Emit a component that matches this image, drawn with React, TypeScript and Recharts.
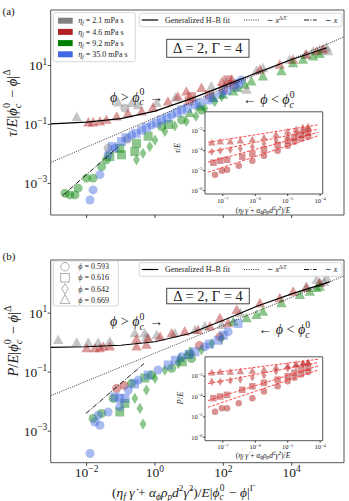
import React from 'react';
import { ScatterChart, Scatter, XAxis, YAxis, ReferenceArea } from 'recharts';

type P = [number, number];
type Kind = 'circ' | 'sq' | 'dia' | 'tri';

const GRAY = '#808080';
const RED = '#b22222';
const GREEN = '#008000';
const BLUE = '#4169e1';
const FONT = '"Liberation Serif", "DejaVu Serif", serif';
const PHI = '\u03d5';

// ---------- panel (a): tau / E |phi_c - phi|^Delta ----------
const grayTriA: P[] = [
  [-2.29, -0.76], [-1.08, -0.26], [-0.68, -0.28], [-0.49, -0.36], [0.05, -0.28], [0.6, -0.1],
  [1.65, 0.28], [2.1, 0.4], [2.68, 0.17], [2.97, 0.81], [3.16, 0.9], [3.94, 1.19],
  [4.4, 1.35], [4.63, 1.47], [4.82, 1.53], [4.9, 1.5], [5.02, 1.6], [5.06, 1.47],
];
const grayCircA: P[] = [[-1.37, -1.81], [-0.81, -1.5], [-0.88, -0.45]];
const redTriA: P[] = [
  [-1.95, -0.94], [-1.81, -0.94], [-1.61, -0.91], [-1.42, -0.85], [-1.12, -0.74], [-0.79, -0.64],
  [-0.39, -0.57], [-0.06, -0.44], [0.38, -0.23], [0.67, -0.06], [0.92, 0.11], [1.36, 0.23],
  [1.96, 0.44], [2.25, 0.51], [3.07, 0.85], [3.65, 1.02], [4.04, 1.19], [4.43, 1.36],
  [4.73, 1.47], [4.92, 1.55],
];
const redSqA: P[] = [[1.0, -0.2], [1.07, -0.06], [1.6, 0.0], [2.0, 0.2], [2.13, 0.51], [2.3, 0.35]];
const greenTriA: P[] = [
  [1.02, -0.62], [1.31, -0.4], [1.7, -0.11], [1.99, 0.0], [2.29, 0.11], [2.43, 0.23],
  [2.63, 0.34], [2.82, 0.45], [3.16, 0.62], [3.7, 0.8], [4.04, 1.07], [4.33, 1.19],
  [4.63, 1.3], [4.82, 1.38],
];
const greenCircA: P[] = [
  [-2.63, -3.33], [-2.49, -3.39], [-2.34, -3.39], [-2.25, -3.16], [-2.0, -2.82], [-1.81, -2.82],
  [-1.56, -2.43], [-1.42, -2.2], [0.19, -1.07], [0.78, -0.85], [1.36, -0.51],
];
const greenSqA: P[] = [
  [-1.32, -2.09], [-1.03, -1.81], [-0.98, -2.03], [-0.59, -1.92], [-0.54, -1.64], [-0.2, -1.4], [0.4, -1.0],
];
const greenDiaA: P[] = [
  [-0.54, -2.2], [-0.35, -1.98], [-0.15, -1.75], [0.0, -1.53], [0.29, -1.24], [0.58, -1.05],
  [0.92, -0.9], [1.2, -0.72], [1.46, -0.45], [1.75, -0.23], [1.95, -0.06],
];
const blueCircA: P[] = [
  [-1.9, -3.56], [-1.81, -3.22], [-1.61, -2.7], [-1.37, -2.03], [-1.17, -1.81], [-0.68, -1.36],
  [-0.1, -1.02], [0.49, -0.68], [1.17, -0.34], [1.95, 0.06], [2.53, 0.51],
];
const blueSqA: P[] = [
  [-1.25, -1.75], [-0.98, -1.58], [-0.85, -1.45], [-0.55, -1.3], [-0.39, -1.19], [-0.25, -1.1],
  [0.05, -0.95], [0.19, -0.85], [0.35, -0.78], [0.65, -0.6], [0.78, -0.51], [0.95, -0.45],
  [1.3, -0.28], [1.56, -0.17], [1.7, -0.08], [2.1, 0.15], [2.34, 0.28], [2.45, 0.4],
];
const hbFitA: P[] = [
  [-3.05, -0.98], [-2, -0.92], [-1, -0.8], [0, -0.55], [1, -0.15], [2, 0.3], [3, 0.76], [4, 1.2], [5.03, 1.6],
];
const powLawA: P[] = [[-3.05, -2.29], [5.53, 1.97]];
const linLawA: P[] = [[-2.7, -3.41], [-1.085, -1.77]];

// ---------- panel (b): P / E |phi_c - phi|^Delta ----------
const grayTriB: P[] = [
  [-2.83, 0.08], [-2.29, -0.01], [-1.95, -0.01], [-1.66, -0.01], [-1.32, 0.03], [-0.59, 0.31],
  [-0.3, 0.31], [-0.25, 0.18], [0.05, 0.25], [0.58, 0.31], [1.17, 0.42], [1.46, 0.54],
  [1.95, 0.59], [2.5, 1.0], [4.43, 1.89], [4.73, 2.12], [4.82, 2.01], [4.95, 2.05], [5.02, 2.18],
];
const redTriB: P[] = [
  [-2.0, -0.2], [-1.76, -0.2], [-1.61, -0.2], [-1.51, -0.14], [-1.32, -0.14], [-0.54, -0.14],
  [-0.54, 0.11], [-0.25, -0.08], [-0.2, 0.14], [0.15, 0.2], [0.49, 0.31], [0.87, 0.37],
  [1.26, 0.42], [1.61, 0.54], [1.9, 0.82], [2.14, 0.65], [2.39, 1.1], [3.07, 1.33],
  [3.65, 1.5], [4.04, 1.72], [4.43, 1.84], [4.82, 2.01],
];
const redCircB: P[] = [[-1.12, -1.55], [-0.9, -1.45], [1.3, -0.1], [1.9, 0.2]];
const greenTriB: P[] = [
  [0.73, -0.54], [0.92, -0.42], [1.02, -0.31], [2.29, 0.7], [2.68, 0.82], [2.97, 0.93],
  [3.16, 1.04], [3.7, 1.33], [4.24, 1.61], [4.53, 1.72], [4.73, 1.84], [4.82, 1.89],
];
const greenCircB: P[] = [
  [-1.81, -2.57], [-1.56, -2.4], [-1.22, -1.89], [-0.68, -1.38], [-0.1, -1.1], [0.49, -0.87], [1.07, -0.54],
];
const greenSqB: P[] = [[-1.03, -2.35], [-0.88, -2.06], [-0.3, -1.2], [0.8, -0.65]];
const greenDiaB: P[] = [
  [-0.59, -1.89], [-0.44, -2.23], [-0.35, -2.76], [-0.25, -1.61], [0.0, -1.21], [0.29, -0.93],
  [0.68, -0.71], [1.07, -0.37], [1.36, -0.25], [1.66, -0.03], [1.95, 0.14],
];
const blueCircB: P[] = [
  [-1.9, -3.76], [-1.76, -2.69], [-1.66, -2.46], [-1.61, -2.8], [-1.37, -2.35], [-1.03, -2.18],
  [-0.78, -1.61], [-0.49, -1.27], [0.09, -0.93], [0.78, -0.48], [1.46, -0.14], [2.14, 0.37],
];
const blueSqB: P[] = [
  [-1.17, -1.84], [-1.03, -1.89], [-0.88, -1.89], [-0.6, -1.4], [-0.2, -1.1], [0.39, -0.76],
  [0.6, -0.6], [1.0, -0.4], [1.17, -0.31], [1.6, -0.05], [1.85, 0.08], [2.0, 0.25], [2.43, 0.65],
];
const hbFitB: P[] = [
  [-3.05, -0.16], [-2, -0.14], [-1, -0.09], [0, 0.03], [1, 0.3], [2, 0.76], [3, 1.24], [4, 1.65], [5.11, 2.06],
];
const powLawB: P[] = [[-3.05, -1.8], [5.53, 2.26]];
const linLawB: P[] = [[-2.02, -2.4], [-0.32, -0.71]];

// ---------- insets (raw stress / pressure over E) ----------
const inTriA: P[] = [
  [-7.34, -3.6], [-7.08, -3.55], [-6.77, -3.55], [-6.46, -3.5], [-6.09, -3.45], [-5.73, -3.35],
  [-5.36, -3.2], [-5.0, -3.05], [-4.74, -2.95], [-4.53, -2.85], [-4.37, -2.8],
];
const inDiaA: P[] = [
  [-7.34, -4.05], [-7.08, -4.0], [-6.77, -3.95], [-6.46, -3.9], [-6.09, -3.8], [-5.73, -3.65],
  [-5.36, -3.45], [-5.0, -3.3], [-4.74, -3.15], [-4.53, -3.05], [-4.37, -2.95],
];
const inSqA: P[] = [
  [-7.29, -4.6], [-7.08, -4.5], [-6.87, -4.45], [-6.4, -4.3], [-6.09, -4.15], [-5.73, -3.95],
  [-5.31, -3.7], [-5.0, -3.5], [-4.79, -3.35], [-4.58, -3.2], [-4.37, -3.1],
];
const inCircA: P[] = [
  [-7.24, -5.2], [-7.03, -5.0], [-6.87, -4.95], [-6.51, -4.75], [-6.09, -4.5], [-5.73, -4.25],
  [-5.31, -4.0], [-5.0, -3.75], [-4.79, -3.55], [-4.58, -3.4], [-4.37, -3.3],
];
const inFitsA: P[][] = [
  [[-7.46, -3.58], [-4.06, -2.7]],
  [[-7.46, -4.08], [-4.06, -2.92]],
  [[-7.46, -4.58], [-4.06, -3.08]],
  [[-7.46, -5.08], [-4.06, -3.25]],
];
const inTriB: P[] = [
  [-7.34, -2.83], [-7.08, -2.8], [-6.77, -2.8], [-6.46, -2.77], [-6.09, -2.75], [-5.73, -2.7],
  [-5.36, -2.58], [-5.0, -2.5], [-4.74, -2.42], [-4.53, -2.37], [-4.37, -2.33],
];
const inDiaB: P[] = [
  [-7.34, -3.27], [-7.08, -3.27], [-6.77, -3.22], [-6.46, -3.17], [-6.09, -3.07], [-5.73, -2.97],
  [-5.36, -2.77], [-5.0, -2.62], [-4.74, -2.52], [-4.53, -2.42], [-4.37, -2.37],
];
const inSqB: P[] = [
  [-7.29, -4.08], [-7.08, -4.0], [-6.87, -3.92], [-6.4, -3.67], [-6.09, -3.5], [-5.73, -3.33],
  [-5.31, -3.17], [-5.0, -3.0], [-4.79, -2.83], [-4.58, -2.67], [-4.37, -2.58],
];
const inCircB: P[] = [
  [-7.24, -4.75], [-7.03, -4.58], [-6.87, -4.58], [-6.51, -4.33], [-6.09, -4.08], [-5.73, -3.75],
  [-5.31, -3.5], [-5.0, -3.25], [-4.79, -3.08], [-4.58, -2.92], [-4.37, -2.8],
];
const inFitsB: P[][] = [
  [[-7.46, -2.87], [-4.06, -2.17]],
  [[-7.46, -3.37], [-4.06, -2.33]],
  [[-7.46, -4.2], [-4.06, -2.5]],
  [[-7.46, -4.53], [-4.06, -2.7]],
];

const etaLabels = ['2.1', '4.6', '9.2', '35.0'];
const etaColors = [GRAY, RED, GREEN, BLUE];
const phiLabels = ['0.593', '0.616', '0.642', '0.669'];
const phiKinds: Kind[] = ['circ', 'sq', 'dia', 'tri'];

const X_TICKS = [1e-2, 1, 1e2, 1e4];
const Y_TICKS = [1e-3, 1e-1, 1e1];
const IN_X_TICKS = [1e-7, 1e-6, 1e-5, 1e-4];
const IN_Y_TICKS = [1e-6, 1e-5, 1e-4, 1e-3];

const X_DOM = [10 ** -3.05, 10 ** 5.53];
const Y_DOM_A = [10 ** -4.07, 10 ** 2.88];
const Y_DOM_B = [10 ** -4.07, 10 ** 2.8];
const IN_X_DOM = [10 ** -7.55, 10 ** -3.92];
const IN_Y_DOM = [10 ** -6.17, 10 ** -2.05];

const toPts = (a: P[]) => a.map(([lx, ly]) => ({ x: 10 ** lx, y: 10 ** ly }));

const exp = (v: number) => {
  const e = Math.round(Math.log10(v));
  return e < 0 ? '\u2212' + -e : String(e);
};

function markerPath(kind: Kind, cx: number, cy: number, s: number, props: any) {
  if (kind === 'circ') return <circle cx={cx} cy={cy} r={s / 2} {...props} />;
  if (kind === 'sq') return <rect x={cx - s / 2} y={cy - s / 2} width={s} height={s} {...props} />;
  if (kind === 'dia')
    return (
      <polygon
        points={`${cx},${cy - s * 0.62} ${cx + s * 0.38},${cy} ${cx},${cy + s * 0.62} ${cx - s * 0.38},${cy}`}
        {...props}
      />
    );
  return (
    <polygon
      points={`${cx},${cy - s * 0.62} ${cx + s * 0.58},${cy + s * 0.42} ${cx - s * 0.58},${cy + s * 0.42}`}
      {...props}
    />
  );
}

const shapeOf = (kind: Kind, color: string, s: number, op: number) => (p: any) => {
  if (p.cx == null || p.cy == null) return <g />;
  return markerPath(kind, p.cx, p.cy, s, { fill: color, fillOpacity: op });
};

const noDot = () => <g />;

interface Series { d: P[]; k: Kind; c: string }
interface LineSpec { d: P[]; c: string; w: number; dash?: string }

const seriesA: Series[] = [
  { d: grayTriA, k: 'tri', c: GRAY },
  { d: grayCircA, k: 'circ', c: GRAY },
  { d: redTriA, k: 'tri', c: RED },
  { d: redSqA, k: 'sq', c: RED },
  { d: greenTriA, k: 'tri', c: GREEN },
  { d: greenCircA, k: 'circ', c: GREEN },
  { d: greenSqA, k: 'sq', c: GREEN },
  { d: greenDiaA, k: 'dia', c: GREEN },
  { d: blueCircA, k: 'circ', c: BLUE },
  { d: blueSqA, k: 'sq', c: BLUE },
];
const seriesB: Series[] = [
  { d: grayTriB, k: 'tri', c: GRAY },
  { d: redTriB, k: 'tri', c: RED },
  { d: redCircB, k: 'circ', c: RED },
  { d: greenTriB, k: 'tri', c: GREEN },
  { d: greenCircB, k: 'circ', c: GREEN },
  { d: greenSqB, k: 'sq', c: GREEN },
  { d: greenDiaB, k: 'dia', c: GREEN },
  { d: blueCircB, k: 'circ', c: BLUE },
  { d: blueSqB, k: 'sq', c: BLUE },
];
const DASHDOT = '5 1.5 1 1.5';
const linesA: LineSpec[] = [
  { d: hbFitA, c: '#000', w: 1.2 },
  { d: powLawA, c: '#000', w: 0.8, dash: '1 1.3' },
  { d: linLawA, c: '#000', w: 0.9, dash: DASHDOT },
];
const linesB: LineSpec[] = [
  { d: hbFitB, c: '#000', w: 1.2 },
  { d: powLawB, c: '#000', w: 0.8, dash: '1 1.3' },
  { d: linLawB, c: '#000', w: 0.9, dash: DASHDOT },
];
const insetA: Series[] = [
  { d: inTriA, k: 'tri', c: RED },
  { d: inDiaA, k: 'dia', c: RED },
  { d: inSqA, k: 'sq', c: RED },
  { d: inCircA, k: 'circ', c: RED },
];
const insetB: Series[] = [
  { d: inTriB, k: 'tri', c: RED },
  { d: inDiaB, k: 'dia', c: RED },
  { d: inSqB, k: 'sq', c: RED },
  { d: inCircB, k: 'circ', c: RED },
];

function PowXTick({ x, y, payload, fs, show }: any) {
  if (!show) return <g />;
  return (
    <text x={x} y={y + fs * 0.72} textAnchor="middle" fontFamily={FONT} fontSize={fs} fill="#222">
      10<tspan dy={-fs * 0.42} fontSize={fs * 0.7}>{exp(payload.value)}</tspan>
    </text>
  );
}

function PowYTick({ x, y, payload, fs }: any) {
  return (
    <text x={x + 1.5} y={y + fs * 0.35} textAnchor="end" fontFamily={FONT} fontSize={fs} fill="#222">
      10<tspan dy={-fs * 0.42} fontSize={fs * 0.7}>{exp(payload.value)}</tspan>
    </text>
  );
}

function LogChart(props: {
  w: number; h: number; plotL: number; plotT: number; plotR: number; plotB: number;
  xDom: number[]; yDom: number[]; xTicks: number[]; yTicks: number[];
  series: Series[]; lines: LineSpec[]; size: number; op: number; fs: number; tick: number; xLabels: boolean;
}) {
  const { w, h, plotL, plotT, plotR, plotB, xDom, yDom, series, lines, size, op, fs, tick } = props;
  const bottomArea = h - plotB;
  return (
    <ScatterChart width={w} height={h} margin={{ top: plotT, right: w - plotR, bottom: 4, left: 0 }}>
      <XAxis
        type="number" dataKey="x" scale="log" domain={xDom} ticks={props.xTicks} allowDataOverflow
        interval={0} axisLine={false} tickSize={tick} tickLine={{ stroke: '#444' }} height={bottomArea - 4}
        tick={(p: any) => <PowXTick {...p} fs={fs} show={props.xLabels} />}
      />
      <YAxis
        type="number" dataKey="y" scale="log" domain={yDom} ticks={props.yTicks} allowDataOverflow
        interval={0} axisLine={false} tickSize={tick} tickLine={{ stroke: '#444' }} width={plotL}
        tick={(p: any) => <PowYTick {...p} fs={fs} />}
      />
      <ReferenceArea
        x1={xDom[0]} x2={xDom[1]} y1={yDom[0]} y2={yDom[1]}
        fill="none" stroke="#555" strokeWidth={1} ifOverflow="visible"
      />
      {series.map((s, i) => (
        <Scatter key={'s' + i} data={toPts(s.d)} shape={shapeOf(s.k, s.c, size, op)} isAnimationActive={false} />
      ))}
      {lines.map((l, i) => (
        <Scatter
          key={'l' + i} data={toPts(l.d)} shape={noDot} isAnimationActive={false}
          line={{ stroke: l.c, strokeWidth: l.w, strokeDasharray: l.dash }}
        />
      ))}
    </ScatterChart>
  );
}

const sub = (t: string, fs: number, italic = true) => (
  <tspan dy={fs * 0.25} fontSize={fs * 0.7} fontStyle={italic ? 'italic' : 'normal'}>{t}</tspan>
);

function Legends({ markers, y1 }: { markers: boolean; y1: number }) {
  const fs = 8;
  const rows = markers ? phiLabels : etaLabels;
  const boxH = markers ? 45 : 49;
  const step = markers ? 11.1 : 11.2;
  const first = markers ? y1 + 5.7 : y1 + 8;
  const y2 = markers ? y1 + 8.5 : y1 + 7.3;
  return (
    <g fontFamily={FONT} fontSize={fs} fill="#222">
      <rect x={53.3} y={y1} width={markers ? 65 : 82} height={boxH} rx={2} fill="#fff" fillOpacity={0.85} stroke="#ccc" strokeWidth={0.8} />
      {rows.map((r, i) => {
        const cy = first + i * step;
        return (
          <g key={r}>
            {markers
              ? markerPath(phiKinds[i], 65, cy, 8.5, { fill: 'none', stroke: '#999', strokeWidth: 0.8 })
              : <rect x={58} y={cy - 3} width={14.7} height={6} fill={etaColors[i]} />}
            <text x={78.3} y={cy + 2.6}>
              {markers ? (
                <><tspan fontStyle="italic">{PHI}</tspan> = {r}</>
              ) : (
                <>
                  <tspan fontStyle="italic">η</tspan>
                  <tspan dy={2} fontSize={5.6} fontStyle="italic">f</tspan>
                  <tspan dy={-2}> = {r} mPa s</tspan>
                </>
              )}
            </text>
          </g>
        );
      })}
      <rect x={139.3} y={y2 - 6.8} width={202.7} height={13.6} rx={2} fill="#fff" fillOpacity={0.85} stroke="#ccc" strokeWidth={0.8} />
      <line x1={141.7} x2={158.3} y1={y2} y2={y2} stroke="#000" strokeWidth={1.2} />
      <text x={165} y={y2 + 2.6}>Generalized H–B fit</text>
      <line x1={244} x2={259} y1={y2} y2={y2} stroke="#000" strokeWidth={0.8} strokeDasharray="1 1.3" />
      <text x={266.7} y={y2 + 2.6}>
        ∼ <tspan fontStyle="italic">x</tspan><tspan dy={-3} fontSize={5.6}>Δ/Γ</tspan>
      </text>
      <line x1={304} x2={316.7} y1={y2} y2={y2} stroke="#000" strokeWidth={0.9} strokeDasharray={DASHDOT} />
      <text x={325} y={y2 + 2.6}>∼ <tspan fontStyle="italic">x</tspan></text>
    </g>
  );
}

function PhiC({ fs }: { fs: number }) {
  return (
    <>
      <tspan fontStyle="italic">{PHI}</tspan>
      <tspan dy={fs * 0.28} fontSize={fs * 0.7} fontStyle="italic">c</tspan>
      <tspan dx={-fs * 0.3} dy={-fs * 0.72} fontSize={fs * 0.7}>0</tspan>
      <tspan dy={fs * 0.44}>{'\u200a'}</tspan>
    </>
  );
}

function Overlay(props: {
  h: number; tag: string; tagY: number; yLabel: string; yLabelY: number; legendY: number; markers: boolean;
  box: number[]; gtX: number; gtY: number; ltX: number; ltY: number; inY: string; inYc: number[]; inXc: number[];
  xLabel: boolean;
}) {
  const fs = 14;
  const lfs = 14.5;
  const xfs = 13.5;
  const [bx, by, bw, bh] = props.box;
  return (
    <svg width={349} height={props.h} style={{ position: 'absolute', left: 0, top: 0, pointerEvents: 'none' }}>
      <text x={2.5} y={props.tagY} fontFamily={FONT} fontSize={11} fill="#222">{props.tag}</text>
      <text
        transform={`translate(${props.markers ? 17.5 : 16.5},${props.yLabelY}) rotate(-90)`}
        textAnchor="middle" fontFamily={FONT} fontSize={lfs} fill="#222"
      >
        <tspan fontStyle="italic">{props.yLabel}</tspan>/<tspan fontStyle="italic">E</tspan>|
        <PhiC fs={lfs} />{' \u2212 '}<tspan fontStyle="italic">{PHI}</tspan>|<tspan dy={-lfs * 0.42} fontSize={lfs * 0.7}>Δ</tspan>
      </text>
      <Legends markers={props.markers} y1={props.legendY} />
      <rect x={bx} y={by} width={bw} height={bh} fill="#fff" stroke="#444" strokeWidth={1} />
      <text x={bx + bw / 2} y={by + bh / 2 + 5} textAnchor="middle" fontFamily={FONT} fontSize={14.5} fill="#222">
        Δ = 2,  Γ = 4
      </text>
      <text x={props.gtX} y={props.gtY} fontFamily={FONT} fontSize={fs} fill="#222">
        <tspan fontStyle="italic">{PHI}</tspan>{' > '}<PhiC fs={fs} /> →
      </text>
      <text x={props.ltX} y={props.ltY} fontFamily={FONT} fontSize={fs} fill="#222">
        {'← '}<tspan fontStyle="italic">{PHI}</tspan>{' < '}<PhiC fs={fs} />
      </text>
      <text
        transform={`translate(${props.inYc[0]},${props.inYc[1]}) rotate(-90)`}
        textAnchor="middle" fontFamily={FONT} fontSize={8.5} fill="#222"
      >
        <tspan fontStyle="italic">{props.inY}</tspan>/<tspan fontStyle="italic">E</tspan>
      </text>
      <text x={props.inXc[0]} y={props.inXc[1]} textAnchor="middle" fontFamily={FONT} fontSize={7.5} fill="#222">
        (<tspan fontStyle="italic">η</tspan>{sub('f', 7.5)}<tspan dy={-7.5 * 0.25}>{' '}</tspan>
        <tspan fontStyle="italic">γ̇</tspan>{' + '}<tspan fontStyle="italic">α</tspan>{sub(PHI, 7.5)}
        <tspan dy={-7.5 * 0.25} fontStyle="italic">ρ</tspan>{sub('p', 7.5)}
        <tspan dy={-7.5 * 0.25} fontStyle="italic">d</tspan><tspan dy={-3} fontSize={5.2}>2</tspan>
        <tspan dy={3} fontStyle="italic">γ̇</tspan><tspan dy={-3} fontSize={5.2}>2</tspan>
        <tspan dy={3}>)/</tspan><tspan fontStyle="italic">E</tspan>
      </text>
      {props.xLabel && (
        <text x={112} y={246.5} fontFamily={FONT} fontSize={xfs} fill="#222">
          (<tspan fontStyle="italic">η</tspan>{sub('f', xfs)}<tspan dy={-xfs * 0.25}>{' '}</tspan>
          <tspan fontStyle="italic">γ̇</tspan>{' + '}<tspan fontStyle="italic">α</tspan>{sub(PHI, xfs)}
          <tspan dy={-xfs * 0.25} fontStyle="italic">ρ</tspan>{sub('p', xfs)}
          <tspan dy={-xfs * 0.25} fontStyle="italic">d</tspan><tspan dy={-xfs * 0.38} fontSize={xfs * 0.68}>2</tspan>
          <tspan dy={xfs * 0.38} fontStyle="italic">γ̇</tspan><tspan dy={-xfs * 0.38} fontSize={xfs * 0.68}>2</tspan>
          <tspan dy={xfs * 0.38}>)/</tspan><tspan fontStyle="italic">E</tspan>|<PhiC fs={xfs} />
          {' \u2212 '}<tspan fontStyle="italic">{PHI}</tspan>|<tspan dy={-xfs * 0.4} fontSize={xfs * 0.68}>Γ</tspan>
        </text>
      )}
    </svg>
  );
}

function Inset({ left, top, h, plotB, series, fits }: { left: number; top: number; h: number; plotB: number; series: Series[]; fits: P[][] }) {
  const plotL = 45;
  const plotT = 11.8;
  const plotR = 162.7;
  const fitLines: LineSpec[] = fits.map((f) => ({ d: f, c: '#ff2020', w: 0.8, dash: '3 1.5' }));
  return (
    <div style={{ position: 'absolute', left, top, width: 170, height: h }}>
      <div style={{ position: 'absolute', left: plotL, top: plotT, width: plotR - plotL, height: plotB - plotT, background: '#fff' }} />
      <div style={{ position: 'absolute', left: 0, top: 0 }}>
        <LogChart
          w={170} h={h} plotL={plotL} plotT={plotT} plotR={plotR} plotB={plotB}
          xDom={IN_X_DOM} yDom={IN_Y_DOM} xTicks={IN_X_TICKS} yTicks={IN_Y_TICKS}
          series={series} lines={fitLines} size={6.5} op={0.5} fs={6.5} tick={2} xLabels
        />
      </div>
    </div>
  );
}

export default function App() {
  return (
    <div style={{ position: 'absolute', left: 0, top: 0, width: 349, height: 501, background: '#fff', overflow: 'hidden' }}>
      <div style={{ position: 'absolute', left: 0, top: 0, width: 349, height: 250 }}>
        <LogChart
          w={349} h={250} plotL={50.7} plotT={10} plotR={344} plotB={215}
          xDom={X_DOM} yDom={Y_DOM_A} xTicks={X_TICKS} yTicks={Y_TICKS}
          series={seriesA} lines={linesA} size={9} op={0.45} fs={13.5} tick={3} xLabels={false}
        />
        <Overlay
          h={250} tag="(a)" tagY={15} yLabel="τ" yLabelY={103} legendY={12.7} markers={false}
          box={[166.7, 39.3, 82.3, 18]} gtX={110} gtY={101.5} ltX={242.7} ltY={104}
          inY="τ" inYc={[180, 148]} inXc={[263, 212.5]} xLabel={false}
        />
        <Inset left={160} top={100} h={120} plotB={94} series={insetA} fits={inFitsA} />
      </div>
      <div style={{ position: 'absolute', left: 0, top: 250, width: 349, height: 251 }}>
        <LogChart
          w={349} h={251} plotL={50.7} plotT={10} plotR={344} plotB={212.7}
          xDom={X_DOM} yDom={Y_DOM_B} xTicks={X_TICKS} yTicks={Y_TICKS}
          series={seriesB} lines={linesB} size={9} op={0.45} fs={13.5} tick={3} xLabels
        />
        <Overlay
          h={251} tag="(b)" tagY={9.5} yLabel="P" yLabelY={91} legendY={11} markers
          box={[166.7, 38.3, 82.6, 15.5]} gtX={110} gtY={76} ltX={258.3} ltY={84}
          inY="P" inYc={[183, 148]} inXc={[263, 207.5]} xLabel
        />
        <Inset left={160} top={95} h={121} plotB={95.7} series={insetB} fits={inFitsB} />
      </div>
    </div>
  );
}
